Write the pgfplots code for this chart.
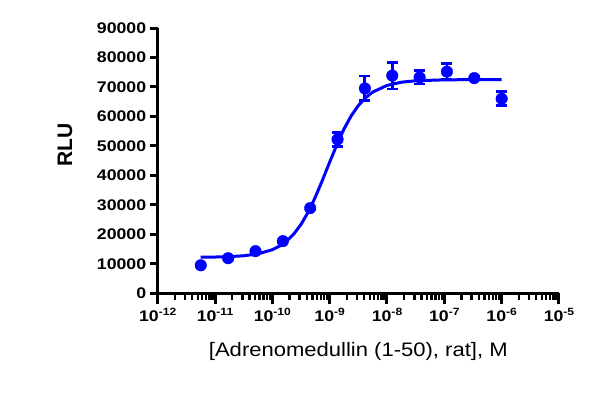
\documentclass[border=0pt]{standalone}
\usepackage{fontspec}
\setmainfont{Liberation Sans}[FakeStretch=1.15]
\newfontfamily\labelfont{Liberation Sans}[FakeStretch=1.13]
\newfontfamily\rlufont{Liberation Sans}
\usepackage{pgfplots}
\pgfplotsset{compat=1.18}
\definecolor{prismblue}{RGB}{0,0,255}
\newcommand{\ex}[1]{10\raisebox{5.6pt}{\fontsize{10.5}{10.5}\selectfont\bfseries #1}}
\begin{document}
\begin{tikzpicture}
\useasboundingbox (0,0) rectangle (606pt,392pt);
\begin{axis}[
  at={(157.7pt,98.7pt)}, anchor=south west,
  scale only axis, width=401.3pt, height=265.3pt,
  xmode=log, log basis x=10,
  xmin=1e-12, xmax=1e-5, ymin=0, ymax=90000,
  axis x line=bottom, axis y line=left,
  axis line style={line width=3.2pt, -},
  tick align=outside,
  xtick={1e-12,1e-11,1e-10,1e-9,1e-8,1e-7,1e-6,1e-5},
  xticklabels={\ex{-12},\ex{-11},\ex{-10},\ex{-9},\ex{-8},\ex{-7},\ex{-6},\ex{-5}},
  minor xtick={2e-12,3e-12,4e-12,5e-12,6e-12,7e-12,8e-12,9e-12,
               2e-11,3e-11,4e-11,5e-11,6e-11,7e-11,8e-11,9e-11,
               2e-10,3e-10,4e-10,5e-10,6e-10,7e-10,8e-10,9e-10,
               2e-9,3e-9,4e-9,5e-9,6e-9,7e-9,8e-9,9e-9,
               2e-8,3e-8,4e-8,5e-8,6e-8,7e-8,8e-8,9e-8,
               2e-7,3e-7,4e-7,5e-7,6e-7,7e-7,8e-7,9e-7,
               2e-6,3e-6,4e-6,5e-6,6e-6,7e-6,8e-6,9e-6},
  ytick={0,10000,20000,30000,40000,50000,60000,70000,80000,90000},
  yticklabels={0,10000,20000,30000,40000,50000,60000,70000,80000,90000},
  scaled y ticks=false,
  major tick length=8pt,
  minor tick length=7pt,
  xtick style={/pgfplots/major tick length=11pt},
  every tick/.style={black, line width=3pt},
  every minor tick/.style={black, line width=2.4pt},
  tick label style={font=\fontsize{15.4}{16}\selectfont\bfseries},
  xticklabel style={anchor=base, yshift=-20pt},
  yticklabel style={anchor=east},
  xlabel={\labelfont\fontsize{19.5}{20}\selectfont [Adrenomedullin (1-50), rat], M},
  every axis x label/.style={at={(axis description cs:0.5,-0.239)}, anchor=base},
  ylabel={\rlufont\bfseries\fontsize{21}{21}\selectfont RLU},
  every axis y label/.style={at={(axis description cs:-0.231,0.559)}, anchor=center, rotate=90},
  clip=false,
]
\addplot[prismblue, line width=3pt, no marks] coordinates {
(5.623e-12,12247) (1e-11,12305) (1.778e-11,12437) (3.162e-11,12731)
(5.623e-11,13380) (1e-10,14790) (1.334e-10,16000) (1.778e-10,17740)
(2.371e-10,20145) (3.162e-10,23370) (4.217e-10,27540) (5.623e-10,32640)
(7.499e-10,38420) (1e-9,44500) (1.334e-9,50410) (1.778e-9,55740)
(2.371e-9,60190) (3.162e-9,63690) (4.217e-9,66330) (5.623e-9,68250)
(1e-8,70530) (1.778e-8,71610) (3.162e-8,72100) (1e-7,72420)
(3.162e-7,72480) (1e-6,72495)
};
\addplot[prismblue, only marks, mark=*, mark size=5.8pt,
  mark options={draw=prismblue, fill=prismblue},
  error bars/.cd, y dir=both, y explicit,
  error bar style={line width=2.8pt, prismblue},
  error mark options={rotate=90, mark size=5.5pt, line width=2.8pt, prismblue}]
  table[x=x, y=y, y error=e] {
x y e
5.645e-12 9500 0
1.694e-11 11900 0
5.081e-11 14300 0
1.524e-10 17700 0
4.572e-10 28900 0
1.372e-9 52200 2300
4.115e-9 69500 4200
1.235e-8 73850 4550
3.704e-8 73250 2250
1.111e-7 75200 2800
3.333e-7 73000 600
1e-6 66000 2400
};
\draw[line width=3.2pt, black] (axis cs:1e-12,0) -- ([yshift=-10pt]axis cs:1e-12,0);
\end{axis}
\end{tikzpicture}
\end{document}
